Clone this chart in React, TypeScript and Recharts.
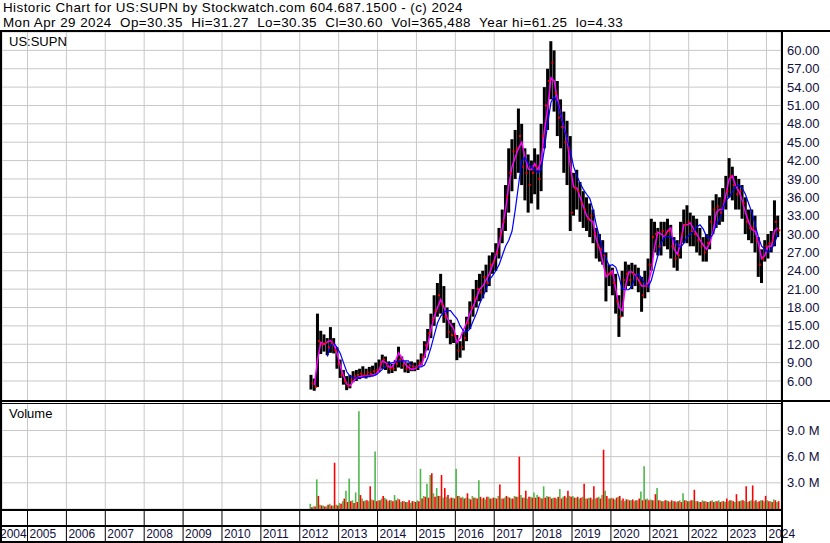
import React from 'react';
import {
  ComposedChart,
  BarChart,
  Bar,
  Line,
  Scatter,
  XAxis,
  YAxis,
  CartesianGrid
} from 'recharts';

// monthly values, Apr 2012 .. Apr 2024 (one row per year)
const priceHigh = [
  7.0, 6.4, 17.0, 14.2, 13.6, 13.0, 14.8, 13.0, 11.5,
  9.5, 7.8, 6.8, 7.0, 7.6, 7.8, 8.0, 8.4, 8.0, 8.3, 8.5, 9.0,
  9.5, 10.3, 10.0, 9.2, 8.8, 9.4, 11.6, 10.0, 9.2, 9.0, 9.2, 9.0,
  9.5, 10.5, 12.5, 14.5, 17.0, 20.0, 22.0, 23.5, 21.5, 18.0, 16.0, 15.5,
  13.5, 12.5, 14.0, 16.5, 19.0, 21.0, 22.5, 23.5, 24.0, 25.0, 26.5, 27.0,
  28.5, 31.0, 34.0, 38.0, 44.0, 45.5, 47.0, 50.5, 48.0, 44.0, 43.0, 42.0,
  44.0, 43.0, 48.0, 54.0, 57.0, 61.5, 60.0, 55.0, 52.0, 50.0, 48.5, 46.0,
  40.0, 40.5, 38.5, 37.0, 36.0, 35.0, 34.0, 31.0, 30.0, 29.0, 27.0, 25.0,
  24.5, 23.5, 20.0, 24.0, 25.5, 25.0, 25.3, 25.0, 24.5, 23.0, 24.0, 26.0,
  32.5, 32.0, 31.0, 32.0, 32.0, 32.5, 31.5, 29.5, 29.0, 32.0, 34.0, 34.7,
  33.5, 33.0, 32.5, 31.0, 29.5, 30.0, 33.0, 35.5, 36.5, 36.0, 37.5, 39.5,
  42.4, 41.0, 39.5, 39.0, 38.0, 36.0, 34.0, 34.0, 33.0, 29.5, 27.5, 29.0,
  30.0, 30.5, 35.5, 33.0
];

const priceLow = [
  4.6, 4.4, 5.0, 10.4, 10.8, 10.2, 10.6, 10.5, 8.0,
  6.5, 5.4, 4.5, 4.8, 5.8, 6.0, 6.3, 6.5, 6.4, 6.6, 6.8, 7.0,
  7.5, 8.0, 7.8, 7.2, 7.3, 7.6, 8.2, 8.0, 7.4, 7.3, 7.6, 7.6,
  7.8, 8.5, 9.8, 11.0, 13.0, 15.0, 16.5, 17.0, 15.5, 13.0, 12.0, 12.2,
  9.4, 9.8, 11.0, 12.5, 14.5, 16.5, 18.0, 19.0, 19.5, 20.5, 21.5, 23.5,
  24.0, 26.0, 28.5, 30.5, 33.5, 37.0, 39.0, 40.0, 38.0, 35.5, 33.5, 35.0,
  36.5, 34.0, 37.0, 44.0, 47.0, 52.0, 50.0, 46.0, 44.0, 40.0, 38.0, 30.5,
  33.0, 34.0, 32.0, 31.0, 30.5, 29.5, 28.5, 26.0, 25.5, 25.0, 19.0, 21.5,
  20.0, 17.0, 13.2, 16.5, 21.0, 21.5, 21.0, 21.5, 20.5, 17.3, 19.5, 20.5,
  24.0, 27.0, 26.5, 26.5, 28.0, 27.5, 26.0, 24.5, 24.0, 26.0, 28.5, 28.5,
  28.0, 28.0, 27.0, 26.5, 25.5, 25.5, 27.5, 30.0, 31.0, 31.5, 32.0, 34.0,
  36.0, 35.5, 34.0, 34.0, 32.5, 30.0, 29.0, 28.5, 27.0, 23.0, 22.0, 25.5,
  26.0, 27.0, 28.0, 29.5
];

const priceClose = [
  5.6, 5.0, 12.5, 12.0, 12.2, 11.5, 12.2, 11.0, 8.8,
  7.0, 6.0, 5.2, 6.2, 6.8, 7.0, 7.2, 7.0, 7.4, 7.2, 7.6, 7.8,
  8.8, 9.5, 8.5, 8.0, 8.0, 8.8, 9.5, 8.5, 8.0, 8.5, 8.4, 8.3,
  9.0, 10.0, 11.8, 13.8, 16.0, 17.5, 20.0, 18.5, 16.5, 14.0, 13.5, 13.4,
  11.0, 11.5, 13.0, 15.5, 18.0, 19.5, 21.0, 20.5, 23.0, 22.0, 25.0, 25.5,
  27.0, 30.0, 32.0, 36.0, 40.0, 43.5, 44.0, 46.0, 41.0, 40.0, 38.0, 40.0,
  41.0, 39.0, 46.0, 51.0, 55.0, 58.0, 53.0, 49.0, 47.5, 45.0, 44.0, 33.5,
  37.5, 37.0, 35.0, 34.0, 32.5, 33.0, 30.0, 28.0, 27.5, 26.5, 23.5, 23.5,
  22.0, 19.0, 16.5, 22.5, 23.5, 22.5, 23.5, 22.8, 22.0, 20.0, 21.5, 25.0,
  29.5, 30.0, 28.0, 30.5, 30.0, 30.5, 28.0, 26.0, 26.5, 30.0, 31.5, 32.0,
  30.5, 30.0, 29.0, 28.0, 27.0, 28.5, 32.0, 34.0, 34.5, 33.5, 35.5, 37.0,
  39.5, 38.0, 36.5, 37.0, 35.0, 32.0, 31.0, 31.0, 29.0, 25.0, 26.0, 28.0,
  28.5, 29.0, 32.0, 30.6
];

// magenta (short) moving average
const maFast = [
  null, 5.3, 9.5, 12.3, 12.0, 12.4, 12.6, 12.0, 10.5,
  8.5, 6.8, 5.5, 5.2, 5.9, 6.5, 6.7, 6.8, 6.8, 6.9, 7.0, 7.1,
  7.8, 9.3, 9.0, 8.3, 8.3, 9.2, 10.6, 9.8, 8.8, 8.2, 7.9, 8.0,
  8.4, 8.6, 10.0, 12.0, 14.5, 16.5, 18.0, 19.3, 18.0, 16.2, 15.3, 14.5,
  12.3, 13.0, 14.3, 15.5, 17.0, 18.2, 19.5, 21.0, 21.5, 22.5, 23.5, 25.0,
  26.5, 28.5, 31.0, 34.0, 38.0, 41.0, 42.6, 44.0, 45.0, 42.6, 40.6, 40.5,
  41.5, 40.5, 42.0, 47.0, 50.5, 55.5, 55.0, 52.0, 49.5, 47.5, 45.5, 41.0,
  37.7, 37.5, 36.0, 34.5, 33.0, 32.3, 32.0, 29.0, 27.7, 25.5, 23.0, 23.5,
  24.0, 21.0, 18.0, 17.5, 21.5, 23.8, 23.8, 23.3, 22.5, 21.5, 21.5, 22.0,
  24.0, 28.0, 30.3, 30.0, 29.5, 30.5, 31.0, 27.5, 26.7, 28.5, 31.5, 31.5,
  31.8, 30.8, 30.0, 29.0, 28.2, 27.5, 28.5, 30.3, 33.5, 34.0, 34.0, 36.5,
  39.0, 39.5, 37.8, 37.0, 35.5, 33.5, 32.0, 30.7, 30.5, 28.5, 26.0, 26.5,
  28.0, 28.0, 30.5, 31.0
];

// blue (long) moving average
const maSlow = [
  null, null, null, null, null, 10.0, 12.0, 12.2, 11.5,
  10.5, 9.0, 7.5, 6.8, 6.5, 6.5, 6.5, 6.6, 6.7, 6.8, 6.8, 7.0,
  7.4, 7.9, 8.4, 8.8, 9.0, 9.1, 9.2, 9.3, 9.3, 9.3, 8.5, 8.3,
  8.3, 8.3, 8.6, 9.8, 11.5, 13.5, 15.5, 16.6, 17.3, 17.5, 17.5, 16.8,
  16.2, 15.0, 14.2, 14.0, 14.5, 15.8, 17.0, 18.6, 19.8, 21.0, 22.5, 23.2,
  24.0, 25.0, 26.5, 28.0, 29.0, 30.5, 34.0, 38.0, 42.0, 42.5, 41.5, 41.0,
  40.5, 40.0, 40.5, 44.0, 48.0, 51.5, 52.5, 51.5, 49.5, 47.5, 45.5, 43.5,
  41.0, 39.5, 38.3, 37.3, 36.5, 35.8, 34.0, 31.5, 29.5, 27.5, 26.0, 24.8,
  25.0, 24.6, 23.0, 21.0, 20.9, 20.9, 21.5, 23.0, 23.5, 22.8, 21.8, 21.3,
  22.5, 24.5, 26.5, 28.5, 29.5, 29.6, 29.5, 29.0, 28.2, 27.8, 28.5, 29.5,
  30.0, 30.5, 31.2, 31.5, 30.8, 29.6, 29.3, 30.0, 31.5, 32.5, 34.0, 35.5,
  36.0, 37.0, 37.8, 38.0, 37.5, 36.5, 35.0, 33.5, 31.5, 29.5, 28.0, 27.5,
  27.0, 27.5, 28.5, 30.0
];

// volume in millions
const volUp = [
  0.6, 0.3, 3.4, 0.5, 0.4, 0.3, 0.6, 0.4, 0.5,
  0.7, 0.9, 2.1, 3.5, 1.0, 1.9, 11.2, 1.2, 1.0, 0.9, 1.1, 6.6,
  1.0, 1.2, 1.3, 0.9, 1.0, 1.6, 1.2, 0.8, 0.9, 0.8, 0.7, 0.9,
  1.0, 4.6, 1.5, 2.9, 3.9, 1.8, 2.4, 1.5, 1.3, 1.4, 1.2, 1.3,
  4.6, 1.5, 1.4, 1.3, 1.2, 1.5, 1.3, 3.3, 1.2, 1.1, 1.4, 1.2,
  1.3, 1.5, 1.2, 1.3, 1.4, 1.2, 1.5, 1.4, 1.6, 1.3, 1.2, 1.4,
  1.9, 1.6, 1.3, 2.6, 1.5, 1.4, 1.3, 1.2, 2.3, 1.4, 1.3, 1.5,
  1.5, 1.3, 1.2, 1.4, 1.2, 1.3, 1.1, 1.2, 1.4, 1.6, 2.1, 1.2,
  1.3, 1.1, 1.4, 1.0, 0.9, 1.1, 1.0, 0.9, 1.0, 2.0, 4.9, 1.2,
  1.1, 1.0, 2.4, 1.0, 0.9, 1.0, 0.8, 0.9, 0.8, 1.0, 1.8, 1.0,
  0.9, 1.0, 0.9, 0.8, 1.0, 0.9, 0.8, 1.0, 0.9, 1.0, 0.9, 0.8,
  0.9, 1.0, 0.8, 0.9, 1.0, 0.9, 0.8, 1.0, 0.9, 0.8, 1.0, 0.9,
  1.0, 0.9, 1.1, 0.8
];

const volDown = [
  0.2, 0.3, 1.5, 0.4, 0.3, 0.5, 0.4, 5.3, 0.4,
  0.6, 1.2, 0.8, 0.9, 0.7, 0.8, 1.6, 0.9, 1.0, 2.6, 1.0, 0.9,
  1.0, 1.5, 1.1, 1.0, 0.9, 1.0, 1.1, 0.9, 0.8, 1.0, 0.9, 0.8,
  0.9, 1.2, 1.4, 1.3, 4.1, 1.4, 1.5, 3.9, 2.4, 1.6, 1.3, 1.2,
  1.5, 1.3, 1.2, 1.8, 1.1, 1.3, 1.2, 1.4, 1.3, 1.4, 1.2, 1.3,
  1.2, 2.8, 1.2, 1.5, 1.3, 1.2, 1.4, 6.0, 1.3, 2.1, 1.4, 1.3,
  1.3, 1.4, 1.2, 1.3, 1.4, 1.2, 1.3, 1.4, 1.2, 1.5, 2.1, 1.4,
  1.3, 1.4, 1.3, 2.9, 1.2, 1.3, 2.6, 1.3, 1.2, 6.8, 1.5, 1.2,
  1.2, 1.3, 1.5, 1.2, 1.1, 1.0, 1.1, 1.0, 1.2, 1.0, 1.1, 1.0,
  1.0, 1.7, 1.0, 0.9, 1.0, 0.9, 1.0, 0.9, 0.9, 0.8, 1.0, 0.9,
  1.0, 2.2, 0.9, 0.8, 0.9, 0.8, 0.9, 0.8, 0.9, 0.8, 0.9, 1.2,
  1.0, 0.9, 1.7, 0.9, 1.0, 2.6, 0.9, 2.7, 1.0, 0.9, 1.0, 1.5,
  0.9, 0.8, 1.0, 0.9
];

const priceTicks = [6, 9, 12, 15, 18, 21, 24, 27, 30, 33, 36, 39, 42, 45, 48, 51, 54, 57, 60];
const volumeTicks = [3, 6, 9];
const years = [2004, 2005, 2006, 2007, 2008, 2009, 2010, 2011, 2012, 2013, 2014,
  2015, 2016, 2017, 2018, 2019, 2020, 2021, 2022, 2023, 2024];

// x axis counts months from Jan 2004; first data month is Apr 2012
const FIRST_MONTH = (2012 - 2004) * 12 + 3;
const X_DOMAIN: [number, number] = [4.13, 244.48];
const yearTicks = years.map((y, i) => (i === 0 ? X_DOMAIN[0] : (y - 2004) * 12));

const rows = priceHigh.map((h, i) => ({
  m: FIRST_MONTH + i + 0.5,
  range: [priceLow[i], h],
  close: priceClose[i],
  fast: maFast[i],
  slow: maSlow[i],
  up: volUp[i],
  down: volDown[i]
}));

const FONT = 'Arial, "Liberation Sans", sans-serif';
const GRID = '#c8c8c8';
const LABEL = '#101040';

const CloseMark = (props: any) => {
  const { cx, cy } = props;
  if (cx == null || cy == null) return null;
  return <rect x={cx + 0.5} y={cy - 1} width={2} height={2} fill="#ff0000" />;
};

const YearTick = (props: any) => {
  const { x, y, payload } = props;
  const first = payload.value < 12;
  const year = first ? 2004 : 2004 + Math.round(payload.value / 12);
  return (
    <g>
      {!first && <line x1={x} y1={y} x2={x} y2={y + 33} stroke="#000" strokeWidth={1} />}
      <text x={first ? x - 2 : x + 2} y={y + 29} fontSize={12} fontFamily={FONT} fill={LABEL}>
        {year}
      </text>
    </g>
  );
};

const Rule = ({ x, y, w, h }: { x: number; y: number; w: number; h: number }) => (
  <div style={{ position: 'absolute', left: x, top: y, width: w, height: h, background: '#000' }} />
);

const App: React.FC = () => {
  return (
    <div style={{ position: 'absolute', left: 0, top: 0, width: 830, height: 543, background: '#fff', overflow: 'hidden', fontFamily: FONT }}>
      <div style={{ position: 'absolute', left: 3, top: 0, fontSize: 13.4, lineHeight: '15px', letterSpacing: 0.45, color: '#000', whiteSpace: 'pre' }}>
        {'Historic Chart for US:SUPN by Stockwatch.com 604.687.1500 - (c) 2024'}
      </div>
      <div style={{ position: 'absolute', left: 3, top: 15, fontSize: 13.4, lineHeight: '15px', letterSpacing: 0.45, color: '#000', whiteSpace: 'pre' }}>
        {'Mon Apr 29 2024  Op=30.35  Hi=31.27  Lo=30.35  Cl=30.60  Vol=365,488  Year hi=61.25  lo=4.33'}
      </div>

      <div style={{ position: 'absolute', left: 0, top: 0 }}>
        <ComposedChart width={830} height={402} data={rows} margin={{ top: 32, right: 0, bottom: 1, left: 2 }}>
          <CartesianGrid stroke={GRID} />
          <XAxis dataKey="m" type="number" domain={X_DOMAIN} ticks={yearTicks} allowDataOverflow hide />
          <YAxis
            orientation="right"
            width={49}
            domain={[2.73, 63.0]}
            ticks={priceTicks}
            interval={0}
            allowDataOverflow
            axisLine={false}
            tickLine={false}
            tickSize={0}
            tickMargin={6}
            tickFormatter={(v: number) => v.toFixed(2)}
            tick={{ fontSize: 13, fontFamily: FONT, fill: LABEL, textAnchor: 'start' }}
          />
          <Bar dataKey="range" fill="#000" barSize={3} isAnimationActive={false} />
          <Scatter dataKey="close" shape={<CloseMark />} isAnimationActive={false} />
          <Line dataKey="fast" stroke="#ff00ff" strokeWidth={1.5} dot={false} isAnimationActive={false} />
          <Line dataKey="slow" stroke="#0000ff" strokeWidth={1.2} dot={false} isAnimationActive={false} />
        </ComposedChart>
      </div>

      <div style={{ position: 'absolute', left: 0, top: 403 }}>
        <BarChart width={830} height={140} data={rows} margin={{ top: 0, right: 0, bottom: 0, left: 2 }} barGap={0}>
          <CartesianGrid stroke={GRID} />
          <XAxis
            dataKey="m"
            type="number"
            domain={X_DOMAIN}
            ticks={yearTicks}
            allowDataOverflow
            height={34}
            axisLine={false}
            tickLine={false}
            tickSize={0}
            tickMargin={0}
            interval={0}
            tick={<YearTick />}
          />
          <YAxis
            orientation="right"
            width={49}
            domain={[0, 12.15]}
            ticks={volumeTicks}
            interval={0}
            allowDataOverflow
            axisLine={false}
            tickLine={false}
            tickSize={0}
            tickMargin={6}
            tickFormatter={(v: number) => `${v.toFixed(1)} M`}
            tick={{ fontSize: 13, fontFamily: FONT, fill: LABEL, textAnchor: 'start' }}
          />
          <Bar dataKey="up" fill="#4cb84c" barSize={1.6} isAnimationActive={false} />
          <Bar dataKey="down" fill="#ff0000" barSize={1.6} isAnimationActive={false} />
        </BarChart>
      </div>

      <div style={{ position: 'absolute', left: 9, top: 34, fontSize: 13, color: '#000' }}>US:SUPN</div>
      <div style={{ position: 'absolute', left: 9, top: 406, fontSize: 13, color: '#000' }}>Volume</div>

      {/* frame lines */}
      <Rule x={0} y={30} w={830} h={2} />
      <Rule x={0} y={30} w={2} h={513} />
      <Rule x={781} y={30} w={2} h={513} />
      <Rule x={0} y={400} w={830} h={2} />
      <Rule x={0} y={403} w={781} h={1} />
      <Rule x={0} y={509} w={781} h={2} />
      <Rule x={0} y={525} w={781} h={2} />
      <Rule x={0} y={541} w={781} h={2} />
    </div>
  );
};

export default App;
